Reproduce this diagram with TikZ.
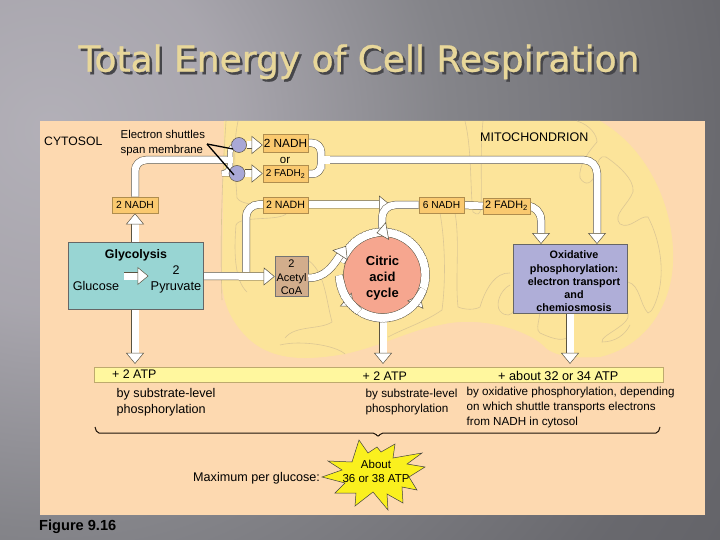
\documentclass[tikz,border=0pt]{standalone}
\usepackage{fontspec}
\setmainfont{Liberation Sans}
\newfontfamily\titlefont{DejaVu Sans}[FakeBold=0.8]
\usetikzlibrary{arrows.meta,calc}
\pgfdeclarelayer{bg}\pgfdeclarelayer{pipes}
\pgfsetlayers{bg,pipes,main}
\definecolor{peach}{HTML}{FDD9B0}
\definecolor{mito}{HTML}{FCE49A}
\definecolor{mline}{HTML}{DCC794}
\definecolor{orangebox}{HTML}{FAC96F}
\definecolor{pout}{HTML}{5A5340}
\definecolor{titlec}{HTML}{E8D79A}
\pgfdeclareradialshading{slidebg}{\pgfpoint{0bp}{0bp}}{rgb(0bp)=(0.70,0.69,0.72); rgb(5bp)=(0.66,0.65,0.68); rgb(11bp)=(0.52,0.52,0.54); rgb(19bp)=(0.41,0.41,0.43); rgb(30bp)=(0.34,0.34,0.36); rgb(50bp)=(0.33,0.33,0.35)}
\newcommand{\titletext}{Total Energy of Cell Respiration}
\tikzset{
  fs/.style={font=\fontsize{#1}{#1}\selectfont},
  fb/.style={font=\fontsize{#1}{#1}\selectfont\bfseries},
  lbl/.style={inner sep=0pt,anchor=mid west,text=black,yshift=-1.5pt},
  ctr/.style={inner sep=0pt,anchor=mid,text=black,yshift=-1.5pt},
  box/.style={draw=#1!70!black,line width=0.6pt,inner sep=0pt,anchor=center},
  obox/.style={box=orangebox,fill=orangebox,text=black},
  pipe/.style={draw=pout,line width=0.5pt,double=white,double distance=7pt,rounded corners=11pt},
  head/.style={-{Triangle[width=18pt,length=11pt,line width=0.5pt,fill=white,color=pout]}},
  cris/.style={draw=mline,line width=0.6pt},
  joint/.style={fill=white,draw=none},
}
\begin{document}
\begin{tikzpicture}[x=1pt,y=-1pt]
\useasboundingbox (0,0) rectangle (720,540);
\begin{pgfonlayer}{bg}
  \begin{scope}
    \clip (0,0) rectangle (720,540);
    \shade[shading=slidebg] (50,130) circle (900);
  \end{scope}
  \fill[peach] (40,121) rectangle (705,515);
  \fill[mito] (224,121) -- (600,121)
     .. controls (650,150) and (675,210) .. (673,262)
     .. controls (672,300) and (650,345) .. (600,357)
     .. controls (580,358) and (560,358) .. (547,349)
     .. controls (530,330) and (480,315) .. (440,325)
     .. controls (410,330) and (385,345) .. (345,354)
     .. controls (310,360) and (275,362) .. (250,340)
     .. controls (230,322) and (222,300) .. (222,280) -- cycle;
  % cristae
  \draw[cris] (226,121) .. controls (222,180) and (220,240) .. (222,300);
  \draw[cris] (238,121) .. controls (232,150) and (236,180) .. (237,198) .. controls (245,210) and (285,200) .. (287,213) .. controls (280,222) and (240,215) .. (236,225) .. controls (234,250) and (234,280) .. (247,292);
  \draw[cris] (305,258) .. controls (325,270) and (325,295) .. (332,322) .. controls (320,330) and (295,325) .. (285,338);
  \draw[cris] (465,121) .. controls (472,150) and (470,190) .. (473,212) .. controls (478,216) and (480,214) .. (481,208) .. controls (482,180) and (480,150) .. (483,121);
  \draw[cris] (440,213) .. controls (445,240) and (446,280) .. (442,310) .. controls (425,322) and (405,328) .. (388,337);
  \draw[cris] (455,213) .. controls (460,240) and (455,280) .. (458,307) .. controls (465,310) and (475,310) .. (480,307) .. controls (485,290) and (495,272) .. (510,273);
  \draw[cris] (510,285) .. controls (500,290) and (495,305) .. (500,311) .. controls (505,317) and (512,316) .. (514,310);
  \draw[cris] (577,121) .. controls (590,125) and (597,135) .. (597,142) .. controls (590,150) and (578,165) .. (580,178) .. controls (585,186) and (592,185) .. (596,172) .. controls (598,160) and (600,155) .. (606,157) .. controls (618,165) and (635,180) .. (633,192) .. controls (628,205) and (612,215) .. (620,224) .. controls (630,230) and (640,215) .. (648,217) .. controls (660,240) and (665,270) .. (658,295) .. controls (655,305) and (652,312) .. (648,313) .. controls (640,305) and (640,285) .. (628,282);
  \draw[cris] (628,313) .. controls (632,325) and (600,335) .. (602,342) .. controls (615,342) and (625,335) .. (630,325);
  \draw[cris] (540,313) .. controls (538,325) and (536,330) .. (540,333) .. controls (555,340) and (565,342) .. (570,335);
  \draw[cris] (345,354) .. controls (335,345) and (300,340) .. (280,345);
\end{pgfonlayer}

% nodes
\node[box=teal,draw=black!60,fill={rgb,255:red,152;green,213;blue,211},minimum width=135pt,minimum height=67pt] (glyc) at (135.5,276) {};
\node[obox,minimum width=46pt,minimum height=16pt,fs=10.3] (nadhL) at (135,205) {2 NADH};
\node[circle,draw=pout,line width=0.5pt,fill={rgb,255:red,169;green,168;blue,214},minimum size=15pt,inner sep=0pt] (cu) at (239,145) {};
\node[circle,draw=pout,line width=0.5pt,fill={rgb,255:red,169;green,168;blue,214},minimum size=16pt,inner sep=0pt] (cl) at (237,173.5) {};
\node[obox,minimum width=45pt,minimum height=18pt,fs=11.8] (nu) at (285.5,143) {2 NADH};
\node[obox,minimum width=45pt,minimum height=17pt,fs=10] (nf) at (285.5,174) {2 FADH\textsubscript{2}};
\node[obox,minimum width=45pt,minimum height=16pt,fs=10.6] (nm) at (285.5,205) {2 NADH};
\node[obox,minimum width=45pt,minimum height=16pt,fs=10.2] (n6) at (441.5,205) {6 NADH};
\node[obox,minimum width=47pt,minimum height=16pt,fs=10.8] (f2) at (506.5,206) {2 FADH\textsubscript{2}};
\node[box=brown,draw=black!55,fill={rgb,255:red,210;green,173;blue,140},minimum width=33pt,minimum height=40pt] (ac) at (291.5,276.5) {};
\node[circle,draw=pout,line width=0.5pt,fill={rgb,255:red,246;green,166;blue,143},minimum size=78pt,inner sep=0pt] (cit) at (382.5,275) {};
\node[box=blue,draw=black!60,fill={rgb,255:red,175;green,174;blue,216},minimum width=114pt,minimum height=69pt] (ox) at (570,278.5) {};
\node[draw={rgb,255:red,190;green,170;blue,110},line width=0.7pt,fill={rgb,255:red,255;green,247;blue,158},minimum width=569pt,minimum height=15.5pt,inner sep=0pt] (bar) at (378.5,375) {};
\coordinate (jn) at (230,160);
\coordinate (mj) at (321,160);
\coordinate (oxT) at (597,244);
\coordinate (oxF) at (541,244);
\coordinate (bA) at (246,272);
\coordinate (fn) at (390,204.5);
\coordinate (cT) at (382,230);
\coordinate (citS) at (383,318);
\coordinate (gA) at (124,276);
\coordinate (gB) at (148.5,276);

\begin{pgfonlayer}{pipes}
  \draw[pipe,head] (nadhL.south |- glyc.north) -- (nadhL.south);
  \draw[pipe] (nadhL.north) |- (jn);
  \draw[pipe,double distance=5pt,rounded corners=8pt] (cu) -| (jn) |- (cl);
  \fill[joint] (226,156.7) rectangle (232.6,163.3);
  \draw[pipe,head] (cu) -- (cu -| nu.west);
  \draw[pipe,head] (cl) -- (cl -| nf.west);
  \draw[pipe,rounded corners=13pt,head] (mj) -| (oxT);
  \draw[pipe,rounded corners=9pt] (nu.east) -| (mj) |- (nf.east);
  \fill[joint] (318,156.4) rectangle (330,163.6);
  \draw[pipe,rounded corners=13pt,head] (bA) |- (fn);
  \draw[pipe,head] (glyc.east) -- (ac.west);
  \draw[pipe,rounded corners=13pt] (cT) |- (n6.west);
  \draw[pipe] (n6.east) -- (f2.west);
  \draw[pipe,rounded corners=14pt,head] (f2.east) -| (oxF);
  \draw[pipe,head,shorten >=3pt] (nadhL.south |- glyc.south) -- (nadhL.south |- bar.north);
  \draw[pipe,head,shorten >=3pt] (citS) -- (citS |- bar.north);
  \draw[pipe,head,shorten >=3pt] (ox.south) -- (ox.south |- bar.north);
\end{pgfonlayer}
% citric ring
\draw[pipe,head] plot[domain=-82:28,samples=30] ({382.5+42.5*cos(\x)},{275+42.5*sin(\x)});
\draw[pipe,head] plot[domain=30:132,samples=30] ({382.5+42.5*cos(\x)},{275+42.5*sin(\x)});
\draw[pipe] plot[domain=134:168,samples=12] ({382.5+42.5*cos(\x)},{275+42.5*sin(\x)});
\draw[pipe,head] plot[domain=208:262,samples=14] ({382.5+42.5*cos(\x)},{275+42.5*sin(\x)});
\draw[pipe,head,rounded corners=0pt] (ac.east |- 0,278) .. controls (325,278) and (333,266) .. (346,246);
\draw[pipe,head] (gA) -- (gB);

% labels
\node[lbl,fs=12.2] (tcy) at (44,141) {CYTOSOL};
\node[lbl,fs=12.5] (tm) at (480,137) {MITOCHONDRION};
\node[lbl,fs=11.4] (ts1) at (120.5,134) {Electron shuttles};
\node[lbl,fs=11.4] (ts2) at (120.5,149) {span membrane};
\coordinate (sh) at (207,144);
\draw[black,line width=1.3pt] (sh) -- (233,149);
\draw[black,line width=1.3pt] (sh) -- (234,175);
\node[ctr,fs=11.5] (tor) at (285,159) {or};
\node[ctr,fb=12.4] (tg) at (136,254) {Glycolysis};
\node[ctr,fs=12.5] (tg2) at (176,270) {2};
\node[ctr,fs=12.8] (tp) at (176,286) {Pyruvate};
\node[ctr,fs=12.6] (tgl) at (96,286) {Glucose};
\node[ctr,fs=11] (ta1) at (291.5,263) {2};
\node[ctr,fs=11] (ta2) at (291.5,277) {Acetyl};
\node[ctr,fs=11] (ta3) at (291.5,290) {CoA};
\node[ctr,fb=13] (tc1) at (382.5,261) {Citric};
\node[ctr,fb=13] (tc2) at (382.5,277) {acid};
\node[ctr,fb=13] (tc3) at (382.5,293) {cycle};
\node[ctr,fb=10.8] (to1) at (574,254) {Oxidative};
\node[ctr,fb=10.8] (to2) at (574,268) {phosphorylation:};
\node[ctr,fb=10.8] (to3) at (574,281) {electron transport};
\node[ctr,fb=10.8] (to4) at (574,294) {and};
\node[ctr,fb=10.8] (to5) at (574,307) {chemiosmosis};
\node[lbl,fs=12.4] (ta) at (112,374.5) {+ 2 ATP};
\node[lbl,fs=12.4] (tb) at (362.5,376) {+ 2 ATP};
\node[lbl,fs=12.7] (tt) at (498,376) {+ about 32 or 34 ATP};
\node[lbl,fs=12.6] (t1) at (116.5,393.5) {by substrate-level};
\node[lbl,fs=12.6] (t2) at (116.5,409) {phosphorylation};
\node[lbl,fs=11.7] (t3) at (365.5,393) {by substrate-level};
\node[lbl,fs=11.7] (t4) at (365.5,408) {phosphorylation};
\node[lbl,fs=11.65] (t5) at (466.5,391) {by oxidative phosphorylation, depending};
\node[lbl,fs=11.65] (t6) at (466.5,406) {on which shuttle transports electrons};
\node[lbl,fs=11.65] (t7) at (466.5,421) {from NADH in cytosol};
\draw[black!85!brown,line width=1pt,rounded corners=2pt] (95,427) -- (97,433) -- (375,433) -- (378,437) -- (381,433) -- (658,433) -- (660,427);
\node[lbl,fs=12.6] (tmx) at (193,477) {Maximum per glucose:};
\draw[draw=black!75,line width=0.5pt,fill={rgb,255:red,250;green,240;blue,30}]
 (359,440) -- (368,453) -- (377,447) -- (381,452) -- (395,444) -- (393,458) -- (422,453) -- (407,464) -- (425,467) -- (409,477) -- (417,490) -- (402,487) -- (403,503) -- (387,494) -- (388,510) -- (373,492) -- (355,506) -- (356,493) -- (335,493) -- (345,483) -- (322,477) -- (342,470) -- (328,461) -- (352,462) -- cycle;
\node[ctr,fs=11.5] (tab) at (376,464) {About};
\node[ctr,fs=11.5] (t36) at (376,478) {36 or 38 ATP};
\node[lbl,fb=14.6] (tfg) at (39,526) {Figure 9.16};
\node[inner sep=0pt,font=\fontsize{36}{36}\titlefont,text=titlec] (title) at (359,63) {\rlap{\kern2.5pt\raisebox{-2.5pt}{\textcolor[HTML]{46464A}{\titletext}}}\titletext};
\end{tikzpicture}
\end{document}
